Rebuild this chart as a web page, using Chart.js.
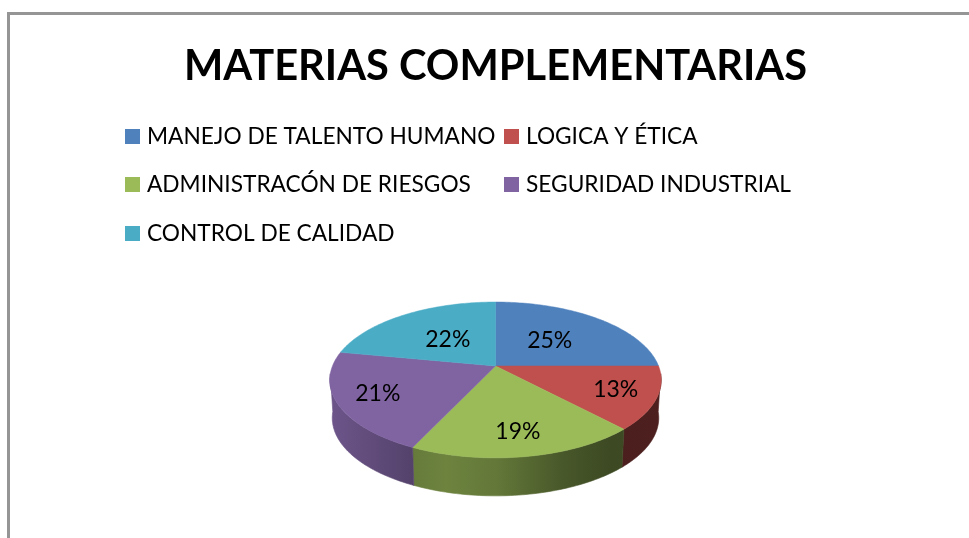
<!DOCTYPE html>
<html>
<head>
<meta charset="utf-8">
<title>Materias complementarias</title>
<script src="https://cdn.jsdelivr.net/npm/chart.js@4"></script>
<style>
    html, body { margin: 0; padding: 0; background: #fff; overflow: hidden; }
    #wrap { position: relative; width: 969px; height: 538px; }
    #frame { position: absolute; left: 7px; top: 12px; right: 0; bottom: 0; border-left: 3px solid #959595; border-top: 3px solid #959595; }
    canvas { position: absolute; left: 0; top: 0; }
</style>
</head>
<body>
<div id="wrap">
    <div id="frame"></div>
    <canvas id="piecanvas" width="969" height="538"></canvas>
</div>
<script>
const titleText = "MATERIAS COMPLEMENTARIAS";
const categories = ["MANEJO DE TALENTO HUMANO", "LOGICA Y ÉTICA", "ADMINISTRACÓN DE RIESGOS", "SEGURIDAD INDUSTRIAL", "CONTROL DE CALIDAD"];
const values = [25, 13, 19, 21, 22];
const colors = ["#4f81bd", "#c0504d", "#9bbb59", "#8064a2", "#4bacc6"];
// how far out each % label sits inside its slice
const labelRadius = [0.5, 0.76, 0.76, 0.76, 0.49];
// shade of the side wall from left to right of the pie
const wallShades = [[0, 0.85], [0.25, 0.66], [0.35, 0.7], [0.5, 0.64], [0.7, 0.47], [0.85, 0.39], [1, 0.4]];

const squash = 0.4625;      // height of the disc against its width
const tilt = 0.1795;        // perspective, near edge is bigger than far edge
const wallDepth = 38;
const wallNarrow = 0.985;

// angle is the one chart.js gives, 0 = east, -PI/2 = top
function project(arc, angle, frac) {
    let u = Math.cos(angle) * frac;
    let v = Math.sin(angle) * frac;
    let w = 1 - tilt * v;
    return {
        x: arc.x + arc.outerRadius * u / w,
        y: arc.y + arc.outerRadius * squash * v / w
    };
}

function shade(hex, f) {
    let n = parseInt(hex.slice(1), 16);
    let r = Math.round((n >> 16 & 255) * f);
    let g = Math.round((n >> 8 & 255) * f);
    let b = Math.round((n & 255) * f);
    return "rgb(" + r + "," + g + "," + b + ")";
}

const pie3dPlugin = {
    id: 'pie3d',
    beforeDatasetsDraw(chart) {
        let ctx = chart.ctx;
        let arcs = chart.getDatasetMeta(0).data;
        let visFrom = 0.1;   // front half of the rim, where the wall shows
        let visTo = Math.PI - 0.1;

        // walls first
        arcs.forEach(function(arc, i) {
            let a0 = Math.max(arc.startAngle, visFrom);
            let a1 = Math.min(arc.endAngle, visTo);
            if (a1 <= a0) return;
            let left = arc.x - arc.outerRadius * 1.017;
            let right = arc.x + arc.outerRadius * 1.017;
            let grad = ctx.createLinearGradient(left, 0, right, 0);
            wallShades.forEach(function(s) {
                grad.addColorStop(s[0], shade(colors[i], s[1]));
            });
            ctx.beginPath();
            for (let k = 0; k <= 60; k++) {
                let p = project(arc, a0 + (a1 - a0) * k / 60, 1);
                if (k === 0) ctx.moveTo(p.x, p.y); else ctx.lineTo(p.x, p.y);
            }
            for (let k = 60; k >= 0; k--) {
                let p = project(arc, a0 + (a1 - a0) * k / 60, 1);
                ctx.lineTo(arc.x + (p.x - arc.x) * wallNarrow, p.y + wallDepth);
            }
            ctx.closePath();
            ctx.fillStyle = grad;
            ctx.strokeStyle = grad;
            ctx.lineWidth = 0.6;
            ctx.fill();
            ctx.stroke();
        });

        // top faces
        arcs.forEach(function(arc, i) {
            ctx.beginPath();
            ctx.moveTo(arc.x, arc.y);
            for (let k = 0; k <= 80; k++) {
                let p = project(arc, arc.startAngle + (arc.endAngle - arc.startAngle) * k / 80, 1);
                ctx.lineTo(p.x, p.y);
            }
            ctx.closePath();
            ctx.fillStyle = colors[i];
            ctx.strokeStyle = colors[i];
            ctx.lineWidth = 0.5;
            ctx.fill();
            ctx.stroke();
        });
        return false;
    },
    afterDraw(chart) {
        let ctx = chart.ctx;
        let total = values.reduce(function(a, b) { return a + b; }, 0);
        ctx.save();
        ctx.font = "23px Lato";
        ctx.fillStyle = "#000";
        ctx.textAlign = "center";
        ctx.textBaseline = "middle";
        chart.getDatasetMeta(0).data.forEach(function(arc, i) {
            let p = project(arc, (arc.startAngle + arc.endAngle) / 2, labelRadius[i]);
            ctx.fillText(Math.round(values[i] / total * 100) + "%", p.x, p.y);
        });
        ctx.restore();
    }
};

// legend has two aligned columns, the built in one can't do that
const columnLegendPlugin = {
    id: 'columnLegend',
    afterDraw(chart) {
        let ctx = chart.ctx;
        let swatchX = [125, 504];
        let rowY = [129, 177, 226];
        ctx.save();
        ctx.font = "22.7px Lato";
        ctx.textAlign = "left";
        ctx.textBaseline = "middle";
        categories.forEach(function(name, i) {
            let col = i % 2;
            let row = Math.floor(i / 2);
            ctx.fillStyle = colors[i];
            ctx.fillRect(swatchX[col], rowY[row], 15, 15);
            ctx.fillStyle = "#000";
            ctx.fillText(name, swatchX[col] + 22, rowY[row] + 7.5);
        });
        ctx.restore();
    }
};

let Canvas = document.getElementById('piecanvas').getContext('2d');
let pieChart = new Chart(Canvas, {
    type: 'pie',
    data: {
        labels: categories,
        datasets: [{ data: values, backgroundColor: colors, borderWidth: 0 }]
    },
    options: {
        responsive: false,
        animation: false,
        layout: { padding: { left: 22, right: 0, top: 0, bottom: 9 } },
        plugins: {
            legend: { display: false },
            tooltip: { enabled: false },
            title: {
                display: true,
                text: titleText,
                color: "#000",
                font: { family: "Lato", size: 41.6, weight: "bold", lineHeight: 1.2 },
                padding: { top: 42, bottom: 111 }
            }
        }
    },
    plugins: [pie3dPlugin, columnLegendPlugin]
});
</script>
</body>
</html>
